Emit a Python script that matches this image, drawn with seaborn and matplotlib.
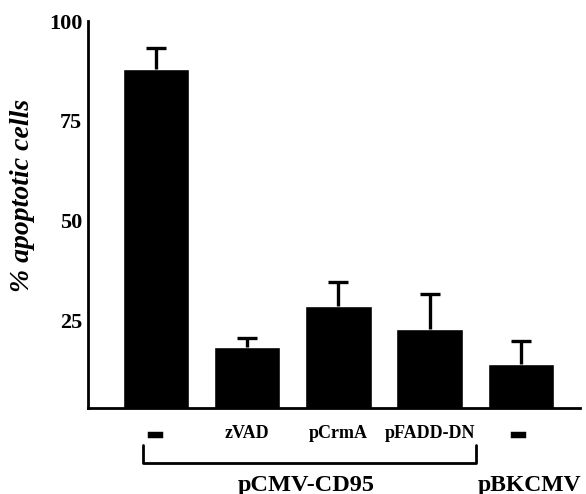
import pandas as pd
import matplotlib.pyplot as plt
import matplotlib.patheffects as pe
import seaborn as sns

# ========== DATA ==========
conditions = ["–", "zVAD", "pCrmA", "pFADD-DN", "– "]
apoptotic = [88, 18.2, 28.5, 22.7, 14]
sem = [5.2, 2.3, 6.2, 8.8, 5.8]
ytick_vals = [25, 50, 75, 100]

df = pd.DataFrame({"cond": conditions, "apop": apoptotic})

# ========== PLOT ==========
sns.set_style("white")
plt.rcParams["font.family"] = ["Liberation Serif", "DejaVu Serif"]
plt.rcParams["font.weight"] = "bold"
for key in ["text.color", "axes.labelcolor", "xtick.color", "ytick.color"]:
    plt.rcParams[key] = "black"

fig = plt.figure(figsize=(5.86, 4.94), dpi=100)
ax = fig.add_axes([0.150, 0.174, 0.840, 0.783])

sns.barplot(x="cond", y="apop", data=df, color="black", width=0.73,
            saturation=1, ax=ax, errorbar=None)

# upper error bars only
eb = ax.errorbar(range(len(conditions)), apoptotic, yerr=[[0] * len(sem), sem],
                 fmt="none", ecolor="black", elinewidth=2.4, capsize=7, capthick=2.4)
eb[1][0].set_visible(False)

ax.set_ylim(3, 100)
ax.set_xlim(-0.745, 4.65)
ax.set_yticks(ytick_vals)
ax.set_yticklabels([str(v) for v in ytick_vals], fontsize=16, fontweight="bold")
ax.set_xticks(range(len(conditions)))
ax.set_xticklabels(conditions, fontsize=13, fontweight="bold")
ax.tick_params(axis="y", direction="in", length=9, width=2, pad=4)
ax.tick_params(axis="x", length=0, pad=12)

# the "–" labels are heavy bars in the original
for lab in ax.get_xticklabels():
    if lab.get_text().strip() == "–":
        lab.set_fontsize(15)
        lab.set_path_effects([pe.withStroke(linewidth=3.2, foreground="black",
                                            joinstyle="miter", capstyle="butt")])

sns.despine(ax=ax)
for side in ["left", "bottom"]:
    ax.spines[side].set_linewidth(2)
    ax.spines[side].set_color("black")

ax.set_xlabel("")
ax.set_ylabel("% apoptotic cells", fontsize=20, fontweight="bold", style="italic")
ax.yaxis.set_label_coords(-0.108, 0.549)

# bracket under the pCMV-CD95 group
tr = ax.get_xaxis_transform()
ax.plot([-0.145, -0.145, 3.505, 3.505], [-0.096, -0.142, -0.142, -0.096],
        color="black", lw=2, transform=tr, clip_on=False)
ax.text(1.65, -0.199, "pCMV-CD95", transform=tr, ha="center", va="center",
        fontsize=17.5, fontweight="bold")
ax.text(3.53, -0.199, "pBKCMV", transform=tr, ha="left", va="center",
        fontsize=17, fontweight="bold")

plt.savefig("out.png", dpi=100)
